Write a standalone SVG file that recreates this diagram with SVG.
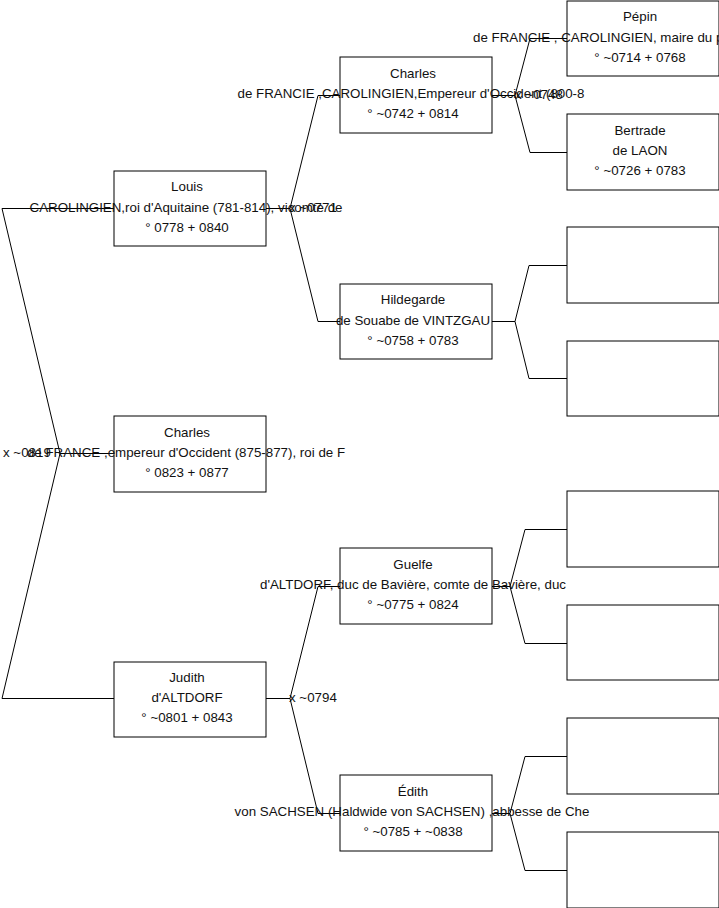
<svg xmlns="http://www.w3.org/2000/svg" width="719" height="908" viewBox="0 0 719 908">
<style>
.box{fill:none;stroke:#000;stroke-width:1}
.ln{fill:none;stroke:#000;stroke-width:1}
text{font-family:"Liberation Sans",Arial,sans-serif;font-size:13.33px;fill:#111}
.c{text-anchor:middle}
</style>
<rect width="719" height="908" fill="#fff"/>
<g id="connectors">
<polyline class="ln" points="114,453.5 60,453.5 2,208.5 114,208.5"/>
<polyline class="ln" points="60,453.5 2,698.5 114,698.5"/>
<polyline class="ln" points="266,208.5 290,208.5 318,95.5 340,95.5"/>
<polyline class="ln" points="290,208.5 318,321.5 340,321.5"/>
<polyline class="ln" points="266,698.5 290,698.5 318,586.5 340,586.5"/>
<polyline class="ln" points="290,698.5 318,813.5 340,813.5"/>
<polyline class="ln" points="492,95.5 515,95.5 530,38.5 567,38.5"/>
<polyline class="ln" points="515,95.5 530,152.5 567,152.5"/>
<polyline class="ln" points="492,321.5 515,321.5 529,265.5 567,265.5"/>
<polyline class="ln" points="515,321.5 529,378.5 567,378.5"/>
<polyline class="ln" points="492,586.5 510,586.5 525,529.5 567,529.5"/>
<polyline class="ln" points="510,586.5 525,643.5 567,643.5"/>
<polyline class="ln" points="492,813.5 510,813.5 525,756.5 567,756.5"/>
<polyline class="ln" points="510,813.5 525,870.5 567,870.5"/>
<text x="3" y="457">x ~0819</text>
<text x="289" y="212">x ~0771</text>
<text x="289" y="702">x ~0794</text>
<text x="515" y="99">x ~0748</text>
</g>
<g id="louis">
<rect class="box" x="114" y="171" width="152" height="75"/>
<text class="c" x="187" y="191">Louis</text>
<text class="c" x="186" y="211.5">CAROLINGIEN,roi d'Aquitaine (781-814), vicomte de</text>
<text class="c" x="187" y="231.5">° 0778 + 0840</text>
</g>
<g id="charles-le-chauve">
<rect class="box" x="114" y="416" width="152" height="76"/>
<text class="c" x="187" y="436.5">Charles</text>
<text class="c" x="186" y="457">de FRANCE ,empereur d'Occident (875-877), roi de F</text>
<text class="c" x="187" y="477">° 0823 + 0877</text>
</g>
<g id="judith">
<rect class="box" x="114" y="662" width="152" height="75"/>
<text class="c" x="187" y="682">Judith</text>
<text class="c" x="187" y="702">d'ALTDORF</text>
<text class="c" x="187" y="722">° ~0801 + 0843</text>
</g>
<g id="charlemagne">
<rect class="box" x="340" y="57" width="152" height="76"/>
<text class="c" x="413" y="77.5">Charles</text>
<text class="c" x="411" y="97.5">de FRANCIE ,CAROLINGIEN,Empereur d'Occident (800-8</text>
<text class="c" x="413" y="118">° ~0742 + 0814</text>
</g>
<g id="hildegarde">
<rect class="box" x="340" y="284" width="152" height="75"/>
<text class="c" x="413" y="304">Hildegarde</text>
<text class="c" x="413" y="324.5">de Souabe de VINTZGAU</text>
<text class="c" x="413" y="345">° ~0758 + 0783</text>
</g>
<g id="guelfe">
<rect class="box" x="340" y="548" width="152" height="76"/>
<text class="c" x="413" y="568.5">Guelfe</text>
<text class="c" x="413" y="589">d'ALTDORF, duc de Bavière, comte de Bavière, duc</text>
<text class="c" x="413" y="609">° ~0775 + 0824</text>
</g>
<g id="edith">
<rect class="box" x="340" y="775" width="152" height="76"/>
<text class="c" x="413" y="795.5">Édith</text>
<text class="c" x="412" y="816">von SACHSEN (Haldwide von SACHSEN) ,abbesse de Che</text>
<text class="c" x="413" y="836">° ~0785 + ~0838</text>
</g>
<g id="pepin">
<rect class="box" x="567" y="1" width="152" height="75"/>
<text class="c" x="640" y="21">Pépin</text>
<text x="473" y="41.5">de FRANCIE , CAROLINGIEN, maire du p</text>
<text class="c" x="640" y="62">° ~0714 + 0768</text>
</g>
<g id="bertrade">
<rect class="box" x="567" y="114" width="152" height="76"/>
<text class="c" x="640" y="134.5">Bertrade</text>
<text class="c" x="640" y="155">de LAON</text>
<text class="c" x="640" y="175">° ~0726 + 0783</text>
</g>
<g id="empty-3"><rect class="box" x="567" y="227" width="152" height="76"/></g>
<g id="empty-4"><rect class="box" x="567" y="341" width="152" height="75"/></g>
<g id="empty-5"><rect class="box" x="567" y="491" width="152" height="76"/></g>
<g id="empty-6"><rect class="box" x="567" y="605" width="152" height="75"/></g>
<g id="empty-7"><rect class="box" x="567" y="718" width="152" height="76"/></g>
<g id="empty-8"><rect class="box" x="567" y="832" width="152" height="76"/></g>
</svg>
